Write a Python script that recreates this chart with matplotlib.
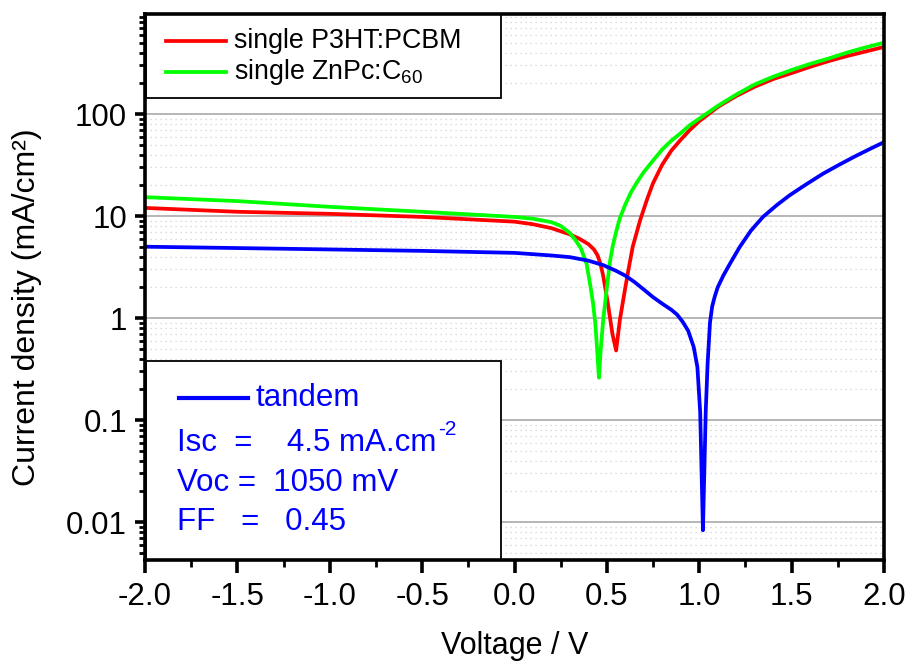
import matplotlib
matplotlib.use("Agg")
import matplotlib.pyplot as plt
from matplotlib.ticker import LogLocator, FixedLocator, NullFormatter, MultipleLocator
from matplotlib.patches import Rectangle
from matplotlib.lines import Line2D

# ---------------- data ----------------
v_red = [-2.0, -1.5, -1.0, -0.5, 0.0, 0.1, 0.2, 0.3, 0.35, 0.4, 0.43, 0.45, 0.465, 0.48,
         0.505, 0.53, 0.55, 0.57, 0.6, 0.62, 0.64, 0.68, 0.72, 0.75, 0.8, 0.85, 0.9, 0.95,
         1.0, 1.1, 1.2, 1.3, 1.4, 1.5, 1.6, 1.7, 1.8, 1.9, 2.0]
j_red = [12, 11, 10.5, 9.8, 8.8, 8.3, 7.6, 6.6, 6.0, 5.3, 4.7, 4.1, 3.4, 2.6,
         1.4, 0.7, 0.48, 0.95, 2.0, 3.2, 5.0, 9.1, 15, 21, 32, 44, 56, 70,
         85, 117, 150, 185, 220, 252, 290, 330, 370, 410, 454]

v_green = [-2.0, -1.5, -1.0, -0.5, 0.0, 0.1, 0.2, 0.25, 0.3, 0.33, 0.36, 0.39, 0.41, 0.425,
           0.437, 0.447, 0.457, 0.467, 0.48, 0.50, 0.517, 0.533, 0.55, 0.57, 0.6, 0.63, 0.66,
           0.7, 0.75, 0.8, 0.85, 0.9, 0.95, 1.0, 1.1, 1.2, 1.3, 1.4, 1.5, 1.6, 1.7, 1.8, 1.9, 2.0]
j_green = [15.3, 14.0, 12.3, 11.0, 9.8, 9.4, 8.7, 8.0, 6.8, 5.8, 4.8, 3.4, 2.1, 1.4,
           0.9, 0.5, 0.26, 0.5, 0.95, 2.0, 3.6, 5.2, 7.0, 9.5, 13, 17, 21,
           27, 35, 45, 55, 65, 78, 90, 120, 155, 195, 232, 270, 310, 350, 400, 450, 500]

v_blue = [-2.0, -1.5, -1.0, -0.5, 0.0, 0.2, 0.3, 0.4, 0.48, 0.55, 0.6, 0.65, 0.7, 0.75,
          0.8, 0.85, 0.88, 0.91, 0.94, 0.97, 0.99, 1.005, 1.015, 1.02, 1.025, 1.035, 1.045,
          1.058, 1.07, 1.085, 1.1, 1.13, 1.17, 1.22, 1.28, 1.345, 1.42, 1.49, 1.58, 1.67,
          1.76, 1.85, 1.93, 2.0]
j_blue = [5.0, 4.85, 4.7, 4.55, 4.35, 4.1, 3.95, 3.65, 3.3, 2.9, 2.6, 2.25, 1.9, 1.6,
          1.38, 1.2, 1.08, 0.92, 0.75, 0.52, 0.33, 0.12, 0.02, 0.0083, 0.02, 0.12, 0.35,
          0.9, 1.3, 1.65, 2.0, 2.6, 3.5, 5.0, 7.2, 9.8, 12.8, 16.0, 20.5, 26,
          32, 39, 46, 53]

labels = ["single P3HT:PCBM", "single ZnPc:C$_{60}$", "tandem"]
colors = ["#ff0000", "#00ff00", "#0000ff"]
x_ticks = [-2.0, -1.5, -1.0, -0.5, 0.0, 0.5, 1.0, 1.5, 2.0]
y_ticks = [0.01, 0.1, 1, 10, 100]
y_ticklabels = ["0.01", "0.1", "1", "10", "100"]

# ---------------- fonts ----------------
plt.rcParams['font.family'] = ['Liberation Sans', 'DejaVu Sans']
plt.rcParams['mathtext.fontset'] = 'custom'
plt.rcParams['mathtext.rm'] = 'Liberation Sans'
plt.rcParams['axes.unicode_minus'] = False

W, H = 908, 662
fig = plt.figure(figsize=(W / 100, H / 100), dpi=100)
L, R, T, B = 145, 884, 14, 560
ax = fig.add_axes([L / W, 1 - B / H, (R - L) / W, (B - T) / H])

lw = 2.7
ax.plot(v_red, j_red, color=colors[0], lw=lw, zorder=3, solid_joinstyle='round')
ax.plot(v_green, j_green, color=colors[1], lw=lw, zorder=3, solid_joinstyle='round')
ax.plot(v_blue, j_blue, color=colors[2], lw=lw, zorder=3, solid_joinstyle='round')

ax.set_yscale('log')
ax.set_xlim(-2.0, 2.0)
ax.set_ylim(10 ** (-2 - 38 / 102), 10 ** (2 + 100 / 102))

ax.yaxis.set_major_locator(FixedLocator(y_ticks))
ax.set_yticklabels(y_ticklabels)
ax.yaxis.set_minor_locator(LogLocator(base=10, subs=range(2, 10), numticks=20))
ax.yaxis.set_minor_formatter(NullFormatter())
ax.set_xticks(x_ticks)
ax.set_xticklabels([f"{t:.1f}" for t in x_ticks], fontsize=22.5)
ax.xaxis.set_minor_locator(MultipleLocator(0.25))

ax.grid(True, which='major', axis='y', color='#b0b0b0', lw=1.3, zorder=0)
ax.grid(True, which='minor', axis='y', color='#d0d0d0', lw=0.9, ls=(0, (1, 3)), zorder=0)

for s in ax.spines.values():
    s.set_linewidth(2.6)
    s.set_zorder(8)
ax.tick_params(axis='y', which='major', direction='out', length=7, width=2.6, labelsize=22.5, pad=6)
ax.tick_params(axis='y', which='minor', direction='out', length=4, width=2.0)
ax.tick_params(axis='x', which='major', direction='out', length=9, width=2.6, pad=7)
ax.tick_params(axis='x', which='minor', direction='out', length=5, width=2.0)

ax.set_xlabel("Voltage / V", fontsize=22)
ax.xaxis.set_label_coords(0.5, (B - 646) / (B - T), transform=ax.transAxes)
ax.set_ylabel("Current density (mA/cm²)", fontsize=23)
ax.yaxis.set_label_coords((27 - L) / (R - L), (B - 307) / (B - T), transform=ax.transAxes)
ax.xaxis.label.set_va('center')
ax.yaxis.label.set_va('center')

# ---------------- boxes ----------------
def fx(px):
    return (px - L) / (R - L)

def fy(py):
    return (B - py) / (B - T)

ax.add_patch(Rectangle((fx(146), fy(98)), fx(501) - fx(146), fy(14) - fy(98),
                       transform=ax.transAxes, facecolor='white', edgecolor='black',
                       lw=1.3, zorder=5))
ax.add_patch(Rectangle((fx(146), fy(560)), fx(501) - fx(146), fy(361) - fy(560),
                       transform=ax.transAxes, facecolor='white', edgecolor='black',
                       lw=1.3, zorder=5))

ax.add_line(Line2D([fx(166), fx(226)], [fy(41), fy(41)], transform=ax.transAxes,
                   color=colors[0], lw=lw, zorder=6))
ax.add_line(Line2D([fx(166), fx(226)], [fy(72), fy(72)], transform=ax.transAxes,
                   color=colors[1], lw=lw, zorder=6))
ax.text(fx(234), fy(41), labels[0], transform=ax.transAxes, fontsize=19.3,
        va='center', ha='left', zorder=7)
ax.text(fx(234), fy(72), labels[1], transform=ax.transAxes, fontsize=19.3,
        va='center', ha='left', zorder=7)

blue = colors[2]
ax.add_line(Line2D([fx(179), fx(248)], [fy(398), fy(398)], transform=ax.transAxes,
                   color=blue, lw=3.0, zorder=6))
ax.text(fx(256), fy(398), labels[2], transform=ax.transAxes, fontsize=22.5,
        va='center', ha='left', color=blue, zorder=7)
t_isc = ax.text(fx(177), fy(443), "Isc  =    4.5 mA.cm", transform=ax.transAxes,
                fontsize=22.5, va='center', ha='left', color=blue, zorder=7)
ax.annotate("-2", xy=(1, 1), xycoords=t_isc, xytext=(1, 6), textcoords='offset points',
            fontsize=15, va='top', ha='left', color=blue, zorder=7)
ax.text(fx(177), fy(483), "Voc =  1050 mV", transform=ax.transAxes, fontsize=22.5,
        va='center', ha='left', color=blue, zorder=7)
ax.text(fx(177), fy(522), "FF   =   0.45", transform=ax.transAxes, fontsize=22.5,
        va='center', ha='left', color=blue, zorder=7)

fig.savefig("out.png", dpi=100)
